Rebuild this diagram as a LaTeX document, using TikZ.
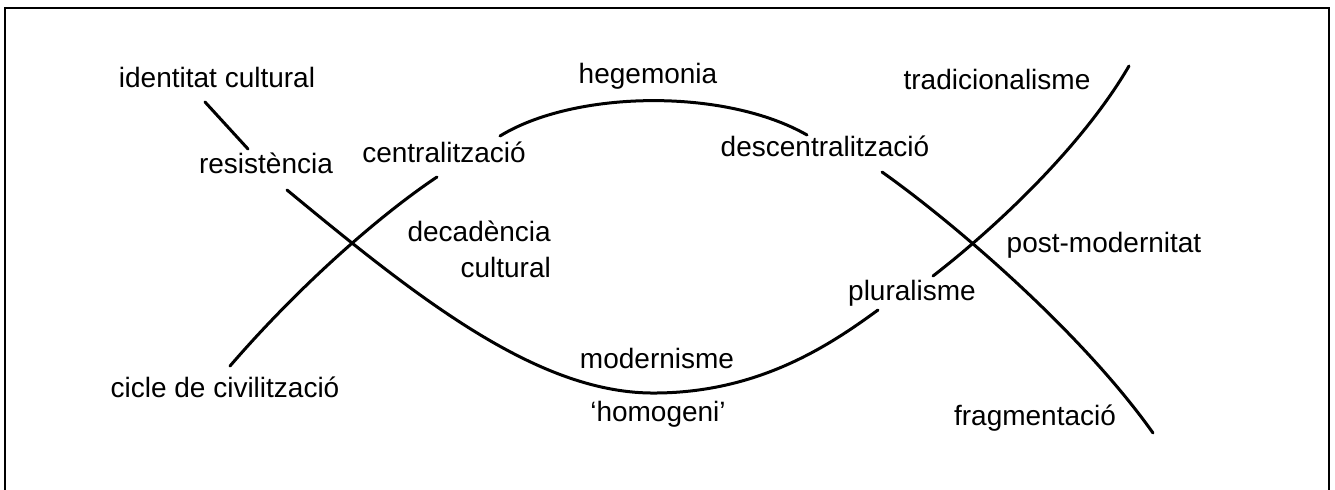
\documentclass[tikz,border=0pt]{standalone}
\usepackage{fontspec}
\setmainfont{Liberation Sans}
\begin{document}
\begin{tikzpicture}[x=1bp,y=-1bp,
  lbl/.style={inner sep=0pt,anchor=base,font=\fontsize{28bp}{32bp}\selectfont},
  curve/.style={line width=3bp,line cap=round},
  frame/.style={line width=1.4bp}]
\useasboundingbox (0,0) rectangle (1335,490);
% frame (open at bottom)
\coordinate (f1) at (5,490);
\coordinate (f2) at (5,8);
\coordinate (f3) at (1329,8);
\coordinate (f4) at (1329,490);
\draw[frame] (f1) -- (f2) -- (f3) -- (f4);
% labels
\node[lbl] (ident) at (217,88) {identitat cultural};
\node[lbl] (resist) at (266,174) {resistència};
\node[lbl] (central) at (444,163) {centralització};
\node[lbl] (hegem) at (648,84) {hegemonia};
\node[lbl] (descen) at (825,157) {descentralització};
\node[lbl] (tradic) at (997,90) {tradicionalisme};
\node[lbl] (postm) at (1104,253) {post-modernitat};
\node[lbl] (plural) at (912,300) {pluralisme};
\node[lbl,align=right,anchor=base east] (decad) at (551,277) {decadència\\[3bp]cultural};
\node[lbl] (modern) at (657,368) {modernisme};
\node[lbl] (homog) at (658,421) {`homogeni'};
\node[lbl] (cicle) at (225,397) {cicle de civilització};
\node[lbl] (fragm) at (1035,425) {fragmentació};
% connector end points
\coordinate (a1) at (205,102);
\coordinate (a2) at (248,149);
\coordinate (b1) at (287,190);
\coordinate (b2) at (657,393);
\coordinate (b3) at (878,310);
\coordinate (c1) at (230,366);
\coordinate (c2) at (437,177);
\coordinate (d1) at (500,136);
\coordinate (d2) at (807,135);
\coordinate (e1) at (882,172);
\coordinate (e2) at (1153,433);
\coordinate (g1) at (933,276);
\coordinate (g2) at (1129,66);
% connectors
\draw[curve] (a1) -- (a2);
\draw[curve] (b1) .. controls (420,300) and (540,395) .. (b2)
                  .. controls (760,392) and (830,345) .. (b3);
\draw[curve] (c1) .. controls (300,285) and (380,215) .. (c2);
\draw[curve] (d1) .. controls (575,90) and (725,88) .. (d2);
\draw[curve] (e1) .. controls (950,220) and (1080,330) .. (e2);
\draw[curve] (g1) .. controls (990,232) and (1080,150) .. (g2);
\end{tikzpicture}
\end{document}
